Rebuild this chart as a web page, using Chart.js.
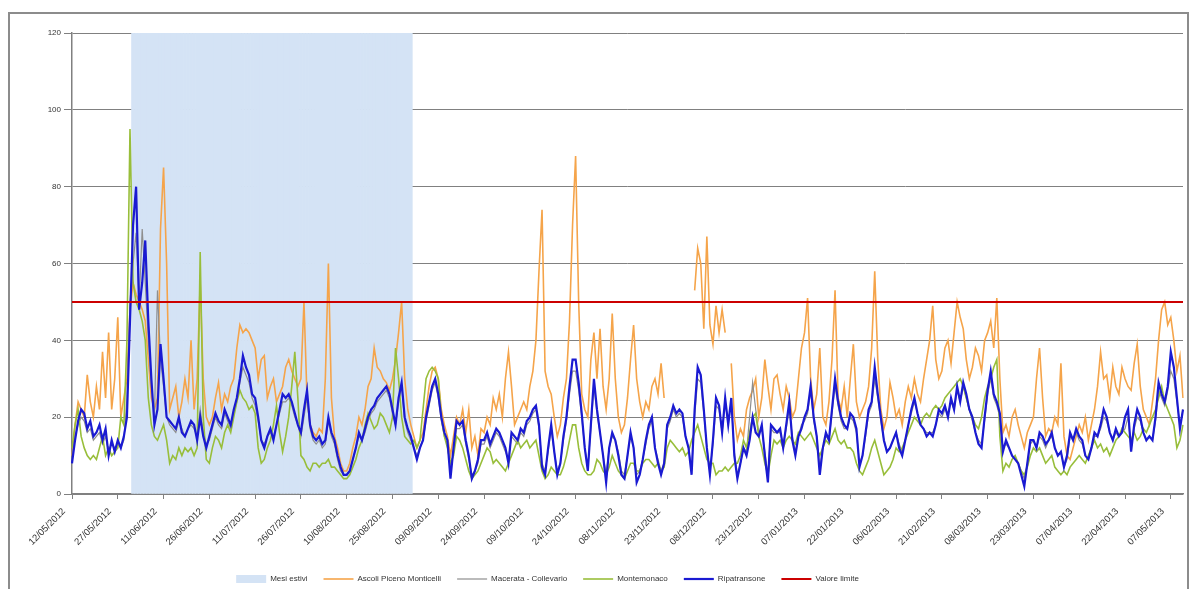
<!DOCTYPE html>
<html>
<head>
<meta charset="utf-8">
<script src="https://cdn.jsdelivr.net/npm/chart.js@4/dist/chart.umd.min.js"></script>
<style>
  html, body { margin: 0; padding: 0; background: #ffffff; }
  canvas { display: block; }
</style>
</head>
<body>
<canvas id="c" width="1190" height="589"></canvas>
<script>
// ---------------- DATA ----------------
const startDate = '2012-05-12';   // first day of the series
const dayCount = 365;
const summerMonths = [6, 7, 8];   // "Mesi estivi"
const yMax = 120;
const limitValue = 50;            // Valore limite

const tickLabels = ['12/05/2012','27/05/2012','11/06/2012','26/06/2012','11/07/2012','26/07/2012',
  '10/08/2012','25/08/2012','09/09/2012','24/09/2012','09/10/2012','24/10/2012','08/11/2012',
  '23/11/2012','08/12/2012','23/12/2012','07/01/2013','22/01/2013','06/02/2013','21/02/2013',
  '08/03/2013','23/03/2013','07/04/2013','22/04/2013','07/05/2013'];

const ascoli = [
  10,18,24,22,20,31,24,20,28,22,37,25,42,22,30,
  46,20,25,30,48,55,52,50,48,45,35,25,22,25,69,
  85,60,22,25,28,20,24,30,25,40,22,30,55,30,20,
  18,20,25,29,22,26,24,28,30,38,44,42,43,42,40,
  38,30,35,36,25,28,30,24,26,28,33,35,32,30,28,
  30,50,25,18,16,15,17,16,30,60,25,15,12,8,6,
  6,8,12,15,20,18,22,28,30,38,33,32,30,29,27,
  30,35,42,50,30,22,18,15,12,14,16,22,28,32,33,
  30,22,18,15,10,15,20,18,22,16,22,12,15,10,17,
  16,20,18,25,22,26,20,30,37,28,18,20,22,24,22,
  28,32,40,58,74,32,28,26,20,15,18,25,30,45,70,
  88,50,26,22,20,35,42,30,43,28,22,30,47,30,20,
  16,18,25,35,44,30,24,20,24,22,28,30,26,34,25,
  null,null,null,null,null,null,null,null,null,53,64,60,43,67,44,
  39,49,42,48,42,null,34,20,14,17,15,22,25,27,30,
  20,25,35,28,22,30,31,26,22,28,25,20,22,30,38,
  42,51,30,22,26,38,20,18,24,35,53,25,22,28,20,
  30,39,24,20,22,24,28,38,58,35,22,17,20,29,25,
  20,22,18,24,28,25,30,26,24,30,35,40,49,35,30,
  32,38,40,34,42,50,46,43,35,30,33,38,36,32,40,
  42,45,38,51,30,16,18,15,20,22,18,15,12,16,18,
  20,30,38,25,15,17,16,20,18,34,15,10,9,12,15,
  18,16,20,14,18,22,28,37,30,31,25,33,28,26,33,
  30,28,27,34,39,28,22,20,18,24,30,40,48,50,44,
  46,40,32,36,25
];

const macerata = [
  10,15,18,20,19,16,17,14,15,16,13,15,11,13,12,
  13,12,14,25,50,60,68,50,69,55,40,28,20,53,35,
  28,20,18,17,16,19,17,15,17,18,17,15,22,16,13,
  14,17,20,18,17,21,19,17,21,24,29,33,31,29,25,
  23,19,14,13,15,16,15,18,21,24,24,25,23,20,18,
  15,20,25,17,14,13,14,12,13,19,15,13,9,6,5,
  5,6,9,12,15,14,16,19,21,22,24,25,26,27,25,
  21,18,24,28,19,16,14,12,10,12,14,19,23,27,29,
  25,19,15,13,6,11,17,17,18,13,9,5,6,8,13,
  13,15,12,14,16,15,13,11,9,15,14,13,16,15,18,
  19,21,22,17,8,6,11,17,11,6,8,14,19,26,32,
  32,27,20,12,7,17,28,21,16,10,5,12,15,14,11,
  6,5,10,15,12,5,6,9,13,17,19,12,9,6,8,
  17,19,22,20,21,20,15,12,6,20,30,29,21,12,6,
  13,23,22,16,24,18,24,11,5,8,12,11,20,29,22,
  16,17,11,5,17,16,16,16,13,17,22,15,11,15,18,
  19,21,27,19,15,7,12,15,14,21,28,23,19,17,17,
  20,19,16,8,10,15,21,23,30,25,19,14,11,12,14,
  16,13,11,14,18,21,24,21,18,17,16,16,16,18,21,
  20,22,21,24,22,27,24,28,25,22,19,16,14,13,19,
  26,30,25,23,20,12,13,12,10,9,8,6,4,8,13,
  14,12,15,14,12,14,15,12,10,11,7,9,15,14,16,
  14,13,10,9,12,15,15,17,20,19,16,14,16,15,16,
  17,20,12,17,20,19,16,14,15,14,19,27,25,23,27,
  32,30,24,18,22
];

const montemonaco = [
  12,18,22,15,12,10,9,10,9,12,15,10,12,10,11,
  12,20,18,40,95,55,50,48,45,40,25,18,15,14,16,
  18,14,8,10,9,12,10,12,11,12,10,12,63,20,9,
  8,12,15,14,12,16,18,16,20,24,27,25,24,22,23,
  21,12,8,9,12,14,18,23,16,11,15,20,28,37,25,
  10,9,7,6,8,8,7,8,8,9,7,7,6,5,4,
  4,5,7,9,12,14,18,21,19,17,18,21,20,18,16,
  20,38,30,20,15,14,13,14,12,14,22,30,32,33,32,
  30,20,15,12,8,10,15,14,12,9,6,4,5,6,8,
  10,12,11,8,9,8,7,6,8,10,12,14,12,13,14,
  12,13,14,10,6,4,5,7,6,5,5,7,10,14,18,
  18,12,8,6,5,5,6,9,8,6,5,7,10,8,6,
  5,4,6,8,8,6,6,8,9,9,8,7,8,6,7,
  12,14,13,12,11,12,10,11,14,16,18,15,12,9,8,
  8,5,6,6,7,6,7,8,8,10,14,12,16,20,21,
  15,12,8,5,10,14,13,14,12,14,15,14,13,16,15,
  14,15,16,14,12,10,12,14,13,15,17,14,13,14,12,
  12,11,8,6,5,7,9,12,14,11,8,5,6,7,9,
  12,11,12,14,16,18,20,19,18,20,21,20,22,23,22,
  23,25,26,27,28,29,30,28,25,22,20,18,17,20,25,
  28,30,33,35,15,6,8,7,9,10,8,6,5,7,10,
  12,11,12,10,8,9,10,7,6,5,6,5,7,8,9,
  10,9,8,10,12,14,12,13,11,12,10,12,14,15,17,
  16,15,14,16,14,15,17,16,18,20,22,25,28,24,22,
  20,18,12,14,18
];

const ripatransone = [
  8,14,19,22,21,17,19,15,16,18,14,17,10,14,11,
  14,12,15,20,45,70,80,48,55,66,45,30,18,22,39,
  30,20,19,18,17,20,16,15,17,19,18,14,20,15,12,
  15,18,21,19,18,22,20,18,22,25,30,36,33,31,26,
  25,20,14,12,15,17,14,18,22,26,25,26,24,21,18,
  16,22,27,18,15,14,15,13,14,20,16,14,10,7,5,
  5,6,9,12,16,14,17,20,22,23,25,26,27,28,26,
  22,18,25,29,20,17,15,12,9,12,14,20,24,28,30,
  26,20,16,14,4,12,19,18,19,14,10,4,6,9,14,
  14,16,13,15,17,16,14,12,8,16,15,14,17,16,19,
  20,22,23,18,7,5,12,18,11,5,8,15,20,28,35,
  35,29,21,12,6,18,30,22,16,10,3,12,16,14,10,
  5,4,10,16,12,3,5,9,14,18,20,12,8,5,8,
  18,20,23,21,22,21,15,12,5,22,33,31,22,12,5,
  14,25,23,16,25,18,25,10,4,8,12,10,14,20,16,
  15,18,10,3,18,17,16,17,12,18,24,14,10,15,17,
  20,22,28,20,15,5,12,16,14,22,30,24,20,18,17,
  21,20,17,7,10,16,22,24,33,26,20,14,11,12,14,
  16,12,10,14,18,22,25,21,18,17,15,16,15,18,22,
  21,23,20,25,22,28,24,29,26,22,20,16,13,12,20,
  27,32,26,24,21,11,14,12,10,9,8,5,2,8,14,
  14,12,16,15,13,14,16,12,10,11,7,10,16,14,17,
  15,14,10,9,12,16,15,18,22,20,16,14,17,15,16,
  20,22,11,18,22,20,16,14,15,14,20,29,26,24,28,
  37,33,25,17,22
];

// ---------------- BUILD ----------------
const dayLabels = [];
const dayMonths = [];
{
  const d0 = new Date(startDate + 'T00:00:00Z');
  for (let i = 0; i < dayCount; i++) {
    const d = new Date(d0.getTime() + i * 86400000);
    const dd = String(d.getUTCDate()).padStart(2, '0');
    const mm = String(d.getUTCMonth() + 1).padStart(2, '0');
    dayLabels.push(dd + '/' + mm + '/' + d.getUTCFullYear());
    dayMonths.push(d.getUTCMonth() + 1);
  }
}
const summerShade = dayMonths.map(m => summerMonths.includes(m) ? yMax : null);
const limitLine = dayLabels.map(() => limitValue);

const FONT = "'Liberation Sans', Arial, sans-serif";
const AXIS = '#808080';

const framePlugin = {
  id: 'frame',
  beforeDraw(chart) {
    const c = chart.ctx;
    c.save();
    c.fillStyle = '#ffffff';
    c.fillRect(0, 0, chart.width, chart.height);
    c.restore();
  },
  afterLayout(chart) {
    const lg = chart.legend;
    if (lg) { lg.left -= 50; lg.right -= 50; lg.top += 4; lg.bottom += 4; }
  },
  afterDraw(chart) {
    const c = chart.ctx;
    c.save();
    c.strokeStyle = '#8c8c8c';
    c.lineWidth = 2;
    c.strokeRect(9, 13, 1179, 600);
    c.restore();
  }
};

new Chart(document.getElementById('c'), {
  type: 'line',
  data: {
    labels: dayLabels,
    datasets: [
      { type: 'bar', label: 'Mesi estivi', data: summerShade, backgroundColor: '#D4E3F5',
        borderWidth: 0, barPercentage: 1, categoryPercentage: 1, pointStyle: 'rect', order: 10 },
      { label: 'Ascoli Piceno Monticelli', data: ascoli, borderColor: '#F5A44A', backgroundColor: '#F5A44A',
        borderWidth: 1.6, pointStyle: 'line', order: 5 },
      { label: 'Macerata - Collevario', data: macerata, borderColor: '#8E8E8E', backgroundColor: '#8E8E8E',
        borderWidth: 1.2, pointStyle: 'line', order: 4 },
      { label: 'Montemonaco', data: montemonaco, borderColor: '#98BE3A', backgroundColor: '#98BE3A',
        borderWidth: 1.6, pointStyle: 'line', order: 3 },
      { label: 'Ripatransone', data: ripatransone, borderColor: '#1A1AD2', backgroundColor: '#1A1AD2',
        borderWidth: 2.2, pointStyle: 'line', order: 2 },
      { label: 'Valore limite', data: limitLine, borderColor: '#CC0000', backgroundColor: '#CC0000',
        borderWidth: 2, pointStyle: 'line', order: 1 }
    ]
  },
  options: {
    responsive: false,
    animation: false,
    elements: { point: { radius: 0, hoverRadius: 0 }, line: { tension: 0, fill: false } },
    layout: { padding: { left: 12, right: 7, top: 33, bottom: 0 } },
    plugins: {
      tooltip: { enabled: false },
      legend: {
        position: 'bottom',
        reverse: true,
        labels: {
          usePointStyle: true,
          pointStyleWidth: 30,
          boxHeight: 8,
          padding: 16,
          color: '#333333',
          font: { family: FONT, size: 8 }
        }
      }
    },
    scales: {
      x: {
        type: 'category',
        offset: false,
        grid: { display: true, drawOnChartArea: false, drawTicks: true, tickLength: 5, color: AXIS, offset: false },
        border: { color: AXIS, width: 1.5 },
        ticks: {
          autoSkip: false, minRotation: 45, maxRotation: 45, padding: 7, labelOffset: -8,
          color: '#333333', font: { family: FONT, size: 9.5 },
          callback(v) { const l = this.getLabelForValue(v); return tickLabels.includes(l) ? l : null; }
        },
        afterFit(s) { s.height = 61; }
      },
      y: {
        min: 0, max: yMax,
        grid: { color: AXIS, lineWidth: 1, tickLength: 8 },
        border: { color: AXIS, width: 1.5 },
        ticks: { stepSize: 20, padding: 3, color: '#333333', font: { family: FONT, size: 8 } },
        afterFit(s) { s.width = 60; }
      }
    }
  },
  plugins: [framePlugin]
});
</script>
</body>
</html>
